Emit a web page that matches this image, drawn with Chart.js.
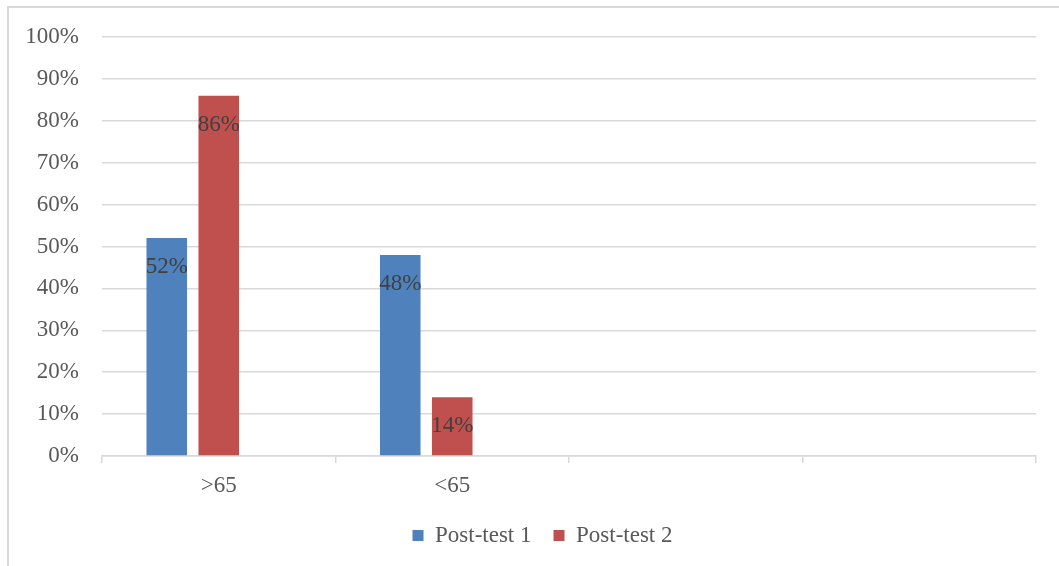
<!DOCTYPE html>
<html>
<head>
<meta charset="utf-8">
<script src="https://cdn.jsdelivr.net/npm/chart.js@4/dist/chart.umd.min.js"></script>
<style>
  html, body { margin: 0; padding: 0; background: #fff; overflow: hidden; }
  #frame { position: absolute; left: 7px; top: 6px; width: 1100px; height: 600px; border: 2px solid #D9D9D9; }
  #wrap { position: absolute; left: 0; top: 0; width: 1059px; height: 566px; }
</style>
</head>
<body>
<div id="frame"></div>
<div id="wrap"><canvas id="chart"></canvas></div>
<script>
const categories = ['>65', '<65', '', ''];
const postTest1 = [52, 48, null, null];
const postTest2 = [86, 14, null, null];
const emptySeries = [null, null, null, null];

const FONT = 'Liberation Serif, "Times New Roman", serif';

// Excel style "inside end" value labels
const valueLabels = {
  id: 'valueLabels',
  afterDatasetsDraw(chart) {
    const ctx = chart.ctx;
    ctx.save();
    ctx.font = '23px ' + FONT;
    ctx.fillStyle = '#404040';
    ctx.textAlign = 'center';
    ctx.textBaseline = 'middle';
    [0, 1].forEach((di) => {
      const meta = chart.getDatasetMeta(di);
      meta.data.forEach((bar, i) => {
        const v = chart.data.datasets[di].data[i];
        if (v == null) return;
        ctx.fillText(v + '%', bar.x, bar.y + 29);
      });
    });
    ctx.restore();
  }
};

// legend sits a bit right of center in the original
const legendShift = {
  id: 'legendShift',
  afterLayout(chart) {
    const lg = chart.legend;
    lg.left += 49;
    lg.top += 2;
    lg.bottom += 2;
  }
};

new Chart(document.getElementById('chart'), {
  type: 'bar',
  data: {
    labels: categories,
    datasets: [
      { label: 'Post-test 1', data: postTest1, backgroundColor: '#4F81BD' },
      { label: 'Post-test 2', data: postTest2, backgroundColor: '#C0504D' },
      { label: 'hidden', data: emptySeries, backgroundColor: '#9BBB59' },
    ],
  },
  options: {
    responsive: true,
    maintainAspectRatio: false,
    animation: false,
    categoryPercentage: 0.668,
    barPercentage: 0.78,
    layout: { padding: { top: 37, right: 23, bottom: 11, left: 0 } },
    scales: {
      x: {
        grid: { display: true, drawOnChartArea: false, drawTicks: true, tickLength: 7, color: '#D9D9D9', lineWidth: 1.5, offset: true },
        border: { display: true, color: '#D9D9D9', width: 1.5 },
        ticks: { color: '#595959', font: { family: FONT, size: 23 }, padding: 9 },
        afterFit(scale) { scale.height = 44; },
      },
      y: {
        min: 0,
        max: 100,
        grid: { color: '#D9D9D9', lineWidth: 1.5, drawTicks: false },
        border: { display: false },
        ticks: {
          stepSize: 10,
          color: '#595959',
          font: { family: FONT, size: 23 },
          padding: 23,
          callback: (v) => v + '%',
        },
        afterFit(scale) { scale.width = 102; },
      },
    },
    plugins: {
      legend: {
        position: 'bottom',
        labels: {
          boxWidth: 11,
          boxHeight: 11,
          padding: 22,
          color: '#595959',
          font: { family: FONT, size: 23 },
          filter: (item) => item.datasetIndex < 2,
        },
      },
      tooltip: { enabled: false },
    },
  },
  plugins: [valueLabels, legendShift],
});
</script>
</body>
</html>
